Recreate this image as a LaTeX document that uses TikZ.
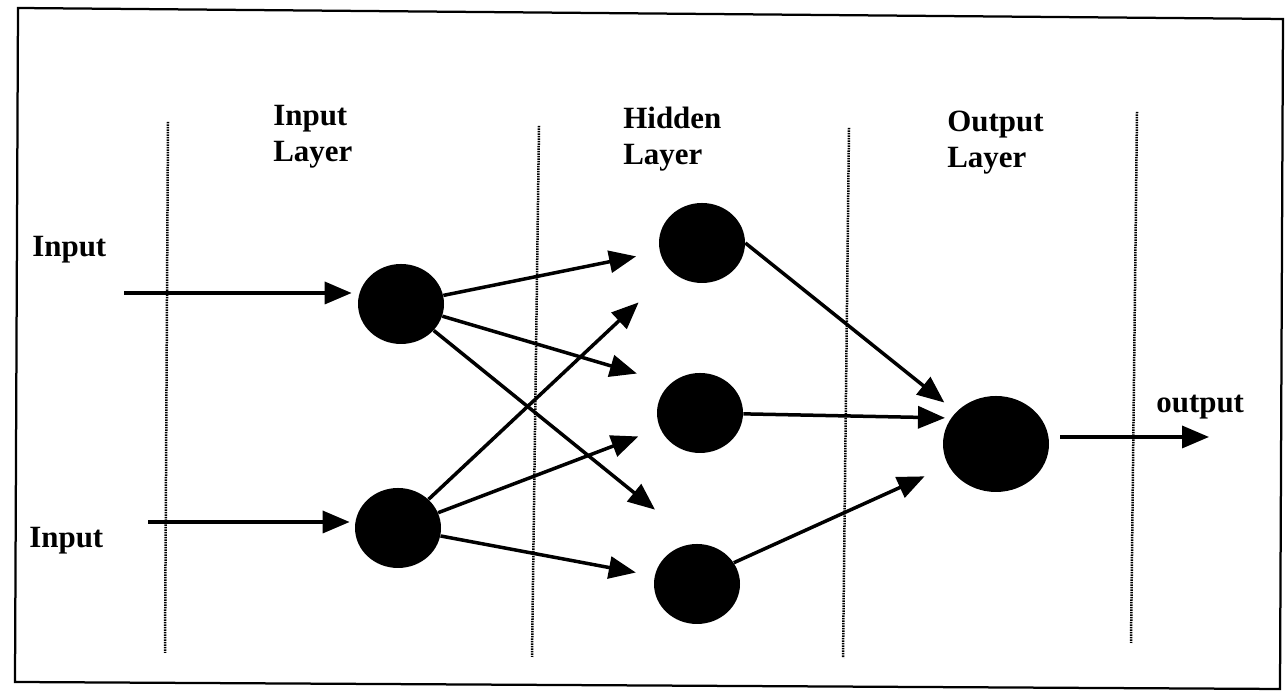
\documentclass[tikz,border=0pt]{standalone}
\usepackage{fontspec}
\setmainfont{Liberation Serif}
\usetikzlibrary{arrows.meta,shapes.geometric}

\begin{document}
\begin{tikzpicture}[
  neuron/.style={ellipse,fill=black,minimum width=1.72cm,minimum height=1.6cm,inner sep=0pt},
  bigneuron/.style={neuron,minimum width=2.12cm,minimum height=1.92cm},
  lbl/.style={inner sep=0pt,font=\fontsize{17.6}{20.5}\selectfont\bfseries,align=left},
  conn/.style={line width=0.7mm,-{Triangle[length=5.4mm,width=4.4mm]}},
  sep/.style={line width=0.5mm,dash pattern=on 0.3mm off 0.2mm}]
\useasboundingbox (0,0) rectangle (25.74,13.84);
\draw[line width=0.45mm] (0.36,13.68)--(25.66,13.46)--(25.60,0.06)--(0.30,0.20)-- cycle;
\draw[sep] (3.36,11.40)--(3.30,0.78);
\draw[sep] (10.78,11.32)--(10.64,0.70);
\draw[sep] (16.98,11.28)--(16.86,0.68);
\draw[sep] (22.74,11.60)--(22.62,0.98);
\node (tIn) at (5.46,11.75) [lbl,anchor=north west] {Input\\Layer};
\node (tHid) at (12.46,11.70) [lbl,anchor=north west] {Hidden\\Layer};
\node (tOut) at (18.94,11.63) [lbl,anchor=north west] {Output\\Layer};
\node (tx1) at (0.64,8.70) [lbl,anchor=base west] {Input};
\node (tx2) at (0.58,2.88) [lbl,anchor=base west] {Input};
\node (ty) at (23.12,5.58) [lbl,anchor=base west] {output};
\node (i1) at (8.02,7.76) [neuron] {};
\node (i2) at (7.96,3.28) [neuron] {};
\node (h1) at (14.04,8.98) [neuron] {};
\node (h2) at (14.00,5.58) [neuron] {};
\node (h3) at (13.94,2.16) [neuron] {};
\node (o) at (19.92,4.96) [bigneuron] {};
\coordinate (in1) at (2.48,7.98);
\coordinate (in2) at (2.96,3.40);
\coordinate (out) at (24.18,5.10);
\draw[conn,shorten >=0.12cm] (in1) -- (in1 -| i1.west);
\draw[conn,shorten >=0.10cm] (in2) -- (in2 -| i2.west);
\draw[conn,shorten >=0.48cm] (i1) -- (h1);
\draw[conn,shorten >=0.70cm] (i1) -- (h2.135);
\draw[conn,shorten >=1.08cm] (i1) -- (h3.north);
\draw[conn,shorten >=0.90cm] (i2) -- (h1);
\draw[conn,shorten >=0.46cm] (i2) -- (h2);
\draw[conn,shorten >=0.38cm] (i2) -- (h3);
\draw[conn,shorten >=0.30cm] (h1.east) -- (o);
\draw[conn,shorten >=0.12cm] (h2) -- (o.150);
\draw[conn,shorten >=0.52cm] (h3.30) -- (o);
\draw[conn,shorten <=0.22cm] (o.east |- out) -- (out);
\end{tikzpicture}
\end{document}
